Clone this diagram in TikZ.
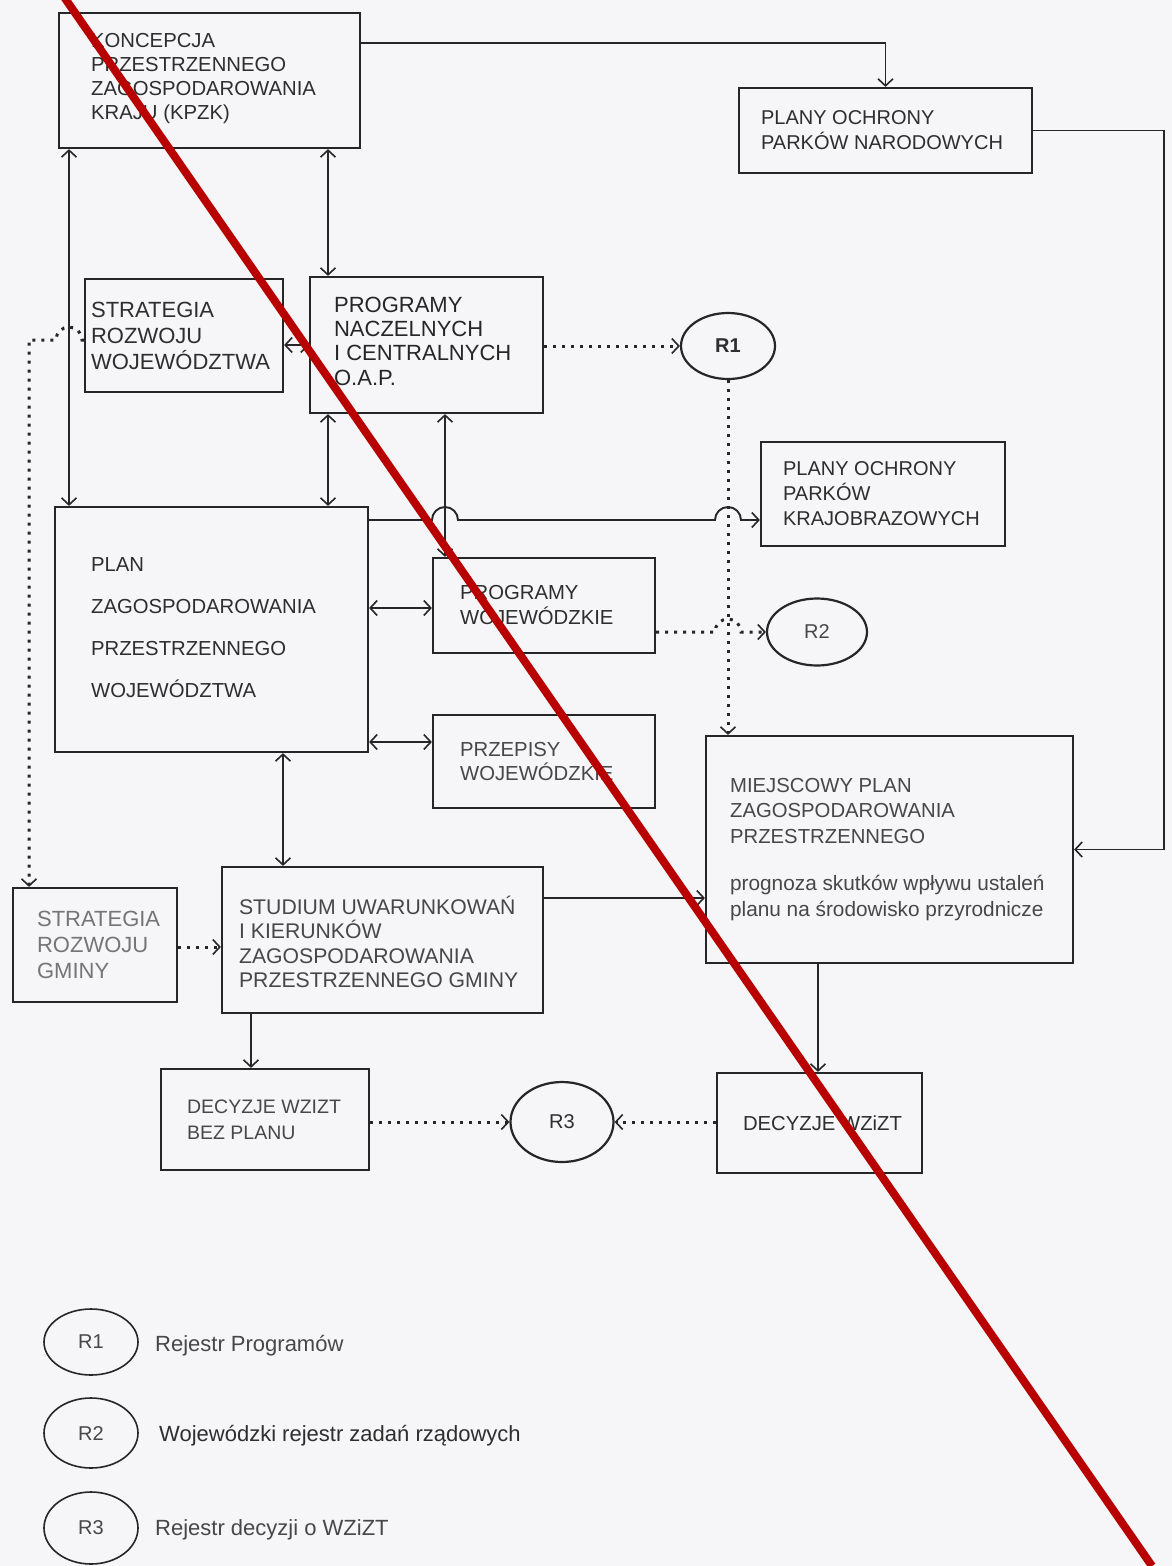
\documentclass[tikz,border=0pt]{standalone}
\usepackage{fontspec}
\setmainfont{Liberation Sans}
\usetikzlibrary{arrows.meta,shapes.geometric,calc}
\definecolor{ink}{HTML}{262626}
\definecolor{txt}{HTML}{2E2E2E}
\definecolor{txtlight}{HTML}{474747}
\definecolor{txtgray}{HTML}{757575}
\definecolor{paper}{HTML}{F6F5F7}
\definecolor{redmark}{HTML}{B80000}
\newcommand\fsz[2]{\fontsize{#1}{#2}\selectfont}
\hyphenpenalty=10000
\begin{document}
\begin{tikzpicture}[x=1pt,y=-1pt,
  >={Straight Barb[length=7pt,width=15pt,line width=1.6pt]},
  box/.style={draw=ink, line width=2.2pt, inner sep=0pt, rectangle},
  lbl/.style={text=txt, align=left, inner sep=0pt, anchor=west},
  conn/.style={draw=ink, line width=1.9pt},
  dots/.style={draw=ink, line width=3pt, dash pattern=on 3pt off 6pt},
  reg/.style={ellipse, draw=ink, line width=2.2pt, inner sep=0pt, text=txt, font=\fsz{20}{24}}]
\fill[paper] (0,0) rectangle (1172,1566);
\useasboundingbox (0,0) rectangle (1172,1566);

% boxes
\node[box, minimum width=301pt, minimum height=135pt] (kpzk) at (209.5,80.5) {};
\node[box, minimum width=293pt, minimum height=85pt] (pn) at (885.5,130.5) {};
\node[box, minimum width=198pt, minimum height=113pt] (sw) at (184,335.5) {};
\node[box, minimum width=233pt, minimum height=136pt] (pnc) at (426.5,345) {};
\node[box, minimum width=313pt, minimum height=245pt] (plan) at (211.5,629.5) {};
\node[box, minimum width=244pt, minimum height=104pt] (pk) at (883,494) {};
\node[box, minimum width=222pt, minimum height=95pt] (pw) at (544,605.5) {};
\node[box, minimum width=222pt, minimum height=93pt] (prz) at (544,761.5) {};
\node[box, minimum width=367pt, minimum height=227pt] (mp) at (889.5,849.5) {};
\node[box, minimum width=321pt, minimum height=146pt] (studium) at (382.5,940) {};
\node[box, minimum width=164pt, minimum height=114pt] (sg) at (95,945) {};
\node[box, minimum width=208pt, minimum height=101pt] (dec1) at (265,1119.5) {};
\node[box, minimum width=205pt, minimum height=100pt] (dec2) at (819.5,1123) {};

% registers
\node[reg, minimum width=94pt, minimum height=66pt, font=\fsz{20}{24}\bfseries] (r1) at (728,346) {R1};
\node[reg, minimum width=100pt, minimum height=67pt, text=txtlight] (r2) at (817,632) {R2};
\node[reg, minimum width=103pt, minimum height=80pt] (r3) at (562,1122) {R3};

% texts
\node[lbl, font=\fsz{20.3}{23.7}] (kpzk-t) at ([xshift=33pt,yshift=2pt]kpzk.west) {KONCEPCJA\\PRZESTRZENNEGO\\ZAGOSPODAROWANIA\\KRAJU (KPZK)};
\node[lbl, font=\fsz{20}{25}] (pn-t) at ([xshift=23pt]pn.west) {PLANY OCHRONY\\PARKÓW NARODOWYCH};
\node[lbl, font=\fsz{22}{26}] (sw-t) at ([xshift=7pt]sw.west) {STRATEGIA\\ROZWOJU\\WOJEWÓDZTWA};
\node[lbl, font=\fsz{22}{24.3}, text=ink] (pnc-t) at ([xshift=25pt,yshift=4pt]pnc.west) {PROGRAMY\\NACZELNYCH\\I CENTRALNYCH\\O.A.P.};
\node[lbl, font=\fsz{20.3}{42}] (plan-t) at ([xshift=37pt,yshift=2pt]plan.west) {PLAN\\ZAGOSPODAROWANIA\\PRZESTRZENNEGO\\WOJEWÓDZTWA};
\node[lbl, font=\fsz{20}{25}] (pk-t) at ([xshift=23pt]pk.west) {PLANY OCHRONY\\PARKÓW\\KRAJOBRAZOWYCH};
\node[lbl, font=\fsz{20.3}{25}] (pw-t) at ([xshift=28pt]pw.west) {PROGRAMY\\WOJEWÓDZKIE};
\node[lbl, font=\fsz{20.3}{24}, text=txtlight] (prz-t) at ([xshift=28pt]prz.west) {PRZEPISY\\WOJEWÓDZKIE};
\node[lbl, font=\fsz{20.3}{25.5}, text=txtlight] (mp-t) at ([xshift=25pt]mp.west) {MIEJSCOWY PLAN\\ZAGOSPODAROWANIA\\PRZESTRZENNEGO\\[22pt]{\fsz{20.8}{25.5}prognoza skutków wpływu ustaleń}\\{\fsz{20.8}{25.5}planu na środowisko przyrodnicze}};
\node[lbl, font=\fsz{21.2}{24.5}, text=txtlight] (studium-t) at ([xshift=18pt,yshift=-2pt]studium.west) {STUDIUM UWARUNKOWAŃ\\I KIERUNKÓW\\ZAGOSPODAROWANIA\\PRZESTRZENNEGO GMINY};
\node[lbl, font=\fsz{22}{26}, text=txtgray] (sg-t) at ([xshift=25pt]sg.west) {STRATEGIA\\ROZWOJU\\GMINY};
\node[lbl, font=\fsz{19.5}{26}, text=txtlight] (dec1-t) at ([xshift=27pt]dec1.west) {DECYZJE WZIZT\\BEZ PLANU};
\node[lbl, font=\fsz{20.3}{24}, anchor=center] (dec2-t) at ([xshift=3pt]dec2.center) {DECYZJE WZiZT};

% connectors
\coordinate (rt) at (1164,0);
\draw[conn,->] (kpzk.east |- 0,43) -| (pn.north);
\draw[conn,->] (pn.east) -- (pn.east -| rt) |- (mp.east);
\draw[conn,<->] (kpzk.south -| 328,0) -- (pnc.north -| 328,0);
\draw[conn,<->] (kpzk.south -| 69,0) -- (plan.north -| 69,0);
\draw[conn,<->] (sw.east |- 0,345) -- (pnc.west |- 0,345);
\draw[dots,->] (pnc.east |- r1.west) -- (r1.west);
\draw[dots,->] (r1.south) -- (r1.south |- mp.north);
\draw[conn,<->] (pnc.south -| 328,0) -- (plan.north -| 328,0);
\draw[conn,<->] (pnc.south -| 445,0) -- (pw.north -| 445,0);
\draw[conn,->] (plan.east |- 0,520) -- (432,520) arc[start angle=180,end angle=0,radius=13pt]
  -- (715,520) arc[start angle=180,end angle=0,radius=13pt] -- (pk.west |- 0,520);
\draw[dots,->] (pw.east |- 0,632) -- (715,632) arc[start angle=180,end angle=0,radius=13pt] -- (r2.west);
\draw[conn,<->] (plan.east |- 0,608) -- (pw.west |- 0,608);
\draw[conn,<->] (plan.east |- 0,742) -- (prz.west |- 0,742);
\draw[conn,<->] (plan.south -| 283,0) -- (studium.north -| 283,0);
\draw[conn,->] (studium.east |- 0,898) -- (mp.west |- 0,898);
\draw[dots,->] (sw.west |- 0,340) -- (82,340) arc[start angle=0,end angle=180,radius=13pt]
  -- (29,340) -- (sg.north -| 29,0);
\draw[dots,->] (sg.east |- 0,947) -- (studium.west |- 0,947);
\draw[conn,->] (studium.south -| 251,0) -- (dec1.north -| 251,0);
\draw[dots,->] (dec1.east |- r3.west) -- (r3.west);
\draw[dots,->] (dec2.west |- r3.east) -- (r3.east);
\draw[conn,->] (mp.south -| 818,0) -- (dec2.north -| 818,0);

% legend
\node[reg, line width=1.6pt, minimum width=94pt, minimum height=66pt, text=txtlight] (lr1) at (91,1342) {R1};
\node[reg, line width=1.6pt, minimum width=94pt, minimum height=70pt, text=txtlight] (lr2) at (91,1433) {R2};
\node[reg, line width=1.6pt, minimum width=94pt, minimum height=72pt, text=txtlight] (lr3) at (91,1528) {R3};
\node[lbl, font=\fsz{22}{26}, text=txtlight] (lr1-t) at (155,1346) {Rejestr Programów};
\node[lbl, font=\fsz{22}{26}, text=txt] (lr2-t) at (159,1436) {Wojewódzki rejestr zadań rządowych};
\node[lbl, font=\fsz{22}{26}, text=txtlight] (lr3-t) at (155,1530) {Rejestr decyzji o WZiZT};

% red strike-through mark
\draw[line width=8pt, redmark] (62,-6) -- (1152,1566);
\end{tikzpicture}
\end{document}
